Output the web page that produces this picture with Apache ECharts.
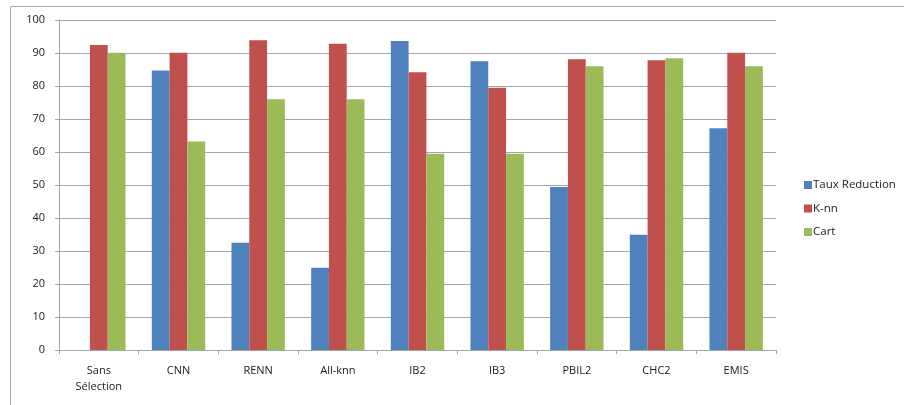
<!DOCTYPE html>
<html>
<head>
<meta charset="utf-8">
<style>
  html, body { margin: 0; padding: 0; background: #fff; }
  #chart { width: 904px; height: 405px; }
</style>
<script src="https://cdn.jsdelivr.net/npm/echarts@6/dist/echarts.min.js"></script>
</head>
<body>
<div id="chart"></div>
<script>
// Methods compared
var categories = ['Sans\nSélection', 'CNN', 'RENN', 'All-knn', 'IB2', 'IB3', 'PBIL2', 'CHC2', 'EMIS'];

// Reduction rate and classifier accuracy (%) per method
var tauxReduction = [null, 84.7, 32.5, 24.9, 93.6, 87.5, 49.4, 34.9, 67.2];
var knn = [92.4, 90.1, 93.9, 92.8, 84.2, 79.5, 88.1, 87.8, 90.1];
var cart = [90.1, 63.2, 76.0, 76.0, 59.5, 59.5, 86.0, 88.4, 86.0];

var yTicks = { min: 0, max: 100, interval: 10 };

var gridColor = '#a6a6a6';
var textColor = '#1a1a1a';
var font = '"Open Sans", "Liberation Sans", sans-serif';

var chart = echarts.init(document.getElementById('chart'), null, { renderer: 'canvas' });

function bar(name, data, color) {
  return {
    name: name,
    type: 'bar',
    data: data,
    barGap: '0%',
    barCategoryGap: '33%',
    itemStyle: { color: color },
    emphasis: { disabled: true }
  };
}

chart.setOption({
  animation: false,
  backgroundColor: '#ffffff',
  textStyle: { fontFamily: font },
  graphic: [
    {
      type: 'polyline',
      shape: { points: [[10.5, 405], [10.5, 6.5], [904, 6.5]] },
      style: { stroke: gridColor, lineWidth: 1, fill: null }
    }
  ],
  legend: {
    orient: 'vertical',
    left: 799,
    top: 174,
    itemWidth: 8,
    itemHeight: 8,
    itemGap: 11.5,
    icon: 'rect',
    textStyle: { fontFamily: font, fontSize: 11.5, color: textColor, padding: [0, 0, 0, -4] },
    data: ['Taux Reduction', 'K-nn', 'Cart']
  },
  grid: { left: 59, right: 128, top: 20, bottom: 55 },
  xAxis: {
    type: 'category',
    data: categories,
    boundaryGap: true,
    axisLine: { show: true, lineStyle: { color: gridColor, width: 1 } },
    axisTick: { show: true, length: 4, lineStyle: { color: gridColor } },
    axisLabel: {
      interval: 0,
      margin: 13,
      color: textColor,
      fontFamily: font,
      fontSize: 11,
      lineHeight: 16
    }
  },
  yAxis: {
    type: 'value',
    min: yTicks.min,
    max: yTicks.max,
    interval: yTicks.interval,
    axisLine: { show: true, lineStyle: { color: gridColor, width: 1 } },
    axisTick: { show: true, length: 4, lineStyle: { color: gridColor } },
    splitLine: { show: true, lineStyle: { color: gridColor, width: 1 } },
    axisLabel: { margin: 14, color: textColor, fontFamily: font, fontSize: 11 }
  },
  series: [
    bar('Taux Reduction', tauxReduction, '#4f81bd'),
    bar('K-nn', knn, '#c0504d'),
    bar('Cart', cart, '#9bbb59')
  ]
});
</script>
</body>
</html>
